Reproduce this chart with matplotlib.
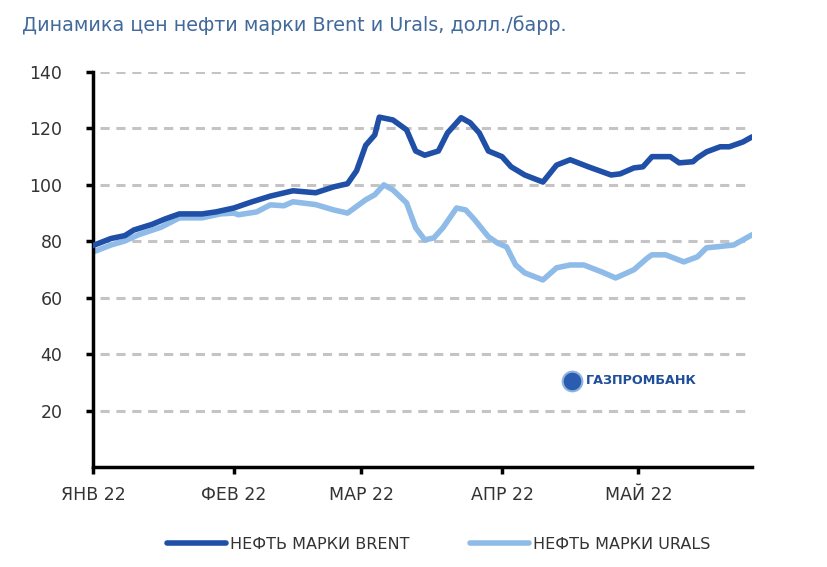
import matplotlib
matplotlib.use("Agg")
import matplotlib.pyplot as plt
import pandas as pd

# Brent, долл./барр.
brent_dates = ["2022-01-01", "2022-01-05", "2022-01-08", "2022-01-10", "2022-01-14", "2022-01-17",
               "2022-01-20", "2022-01-25", "2022-01-28", "2022-02-01", "2022-02-05", "2022-02-09",
               "2022-02-14", "2022-02-19", "2022-02-23", "2022-02-26", "2022-02-28", "2022-03-02",
               "2022-03-04", "2022-03-05", "2022-03-08", "2022-03-11", "2022-03-13", "2022-03-15",
               "2022-03-18", "2022-03-20", "2022-03-23", "2022-03-25", "2022-03-27", "2022-03-29",
               "2022-04-01", "2022-04-03", "2022-04-06", "2022-04-10", "2022-04-13", "2022-04-16",
               "2022-04-20", "2022-04-25", "2022-04-27", "2022-04-30", "2022-05-02", "2022-05-04",
               "2022-05-08", "2022-05-10", "2022-05-13", "2022-05-14", "2022-05-16", "2022-05-19",
               "2022-05-21", "2022-05-24", "2022-05-26"]
brent_values = [78.5, 81, 82, 84, 86, 88,
                89.7, 89.7, 90.4, 91.8, 94, 96,
                97.9, 97.2, 99.3, 100.4, 105, 114,
                117.7, 124, 123, 119.5, 112, 110.5,
                112, 118.4, 123.8, 122, 118.4, 112,
                110, 106.4, 103.5, 101, 107, 108.9,
                106.4, 103.5, 103.9, 106, 106.4, 110,
                110, 107.8, 108.2, 109.6, 111.7, 113.5,
                113.5, 115.2, 117]

# Urals, долл./барр.
urals_dates = ["2022-01-01", "2022-01-05", "2022-01-08", "2022-01-11", "2022-01-16", "2022-01-20",
               "2022-01-25", "2022-01-29", "2022-02-01", "2022-02-02", "2022-02-06", "2022-02-09",
               "2022-02-12", "2022-02-14", "2022-02-19", "2022-02-23", "2022-02-26", "2022-03-02",
               "2022-03-04", "2022-03-06", "2022-03-08", "2022-03-11", "2022-03-13", "2022-03-15",
               "2022-03-17", "2022-03-19", "2022-03-22", "2022-03-24", "2022-03-26", "2022-03-29",
               "2022-03-31", "2022-04-02", "2022-04-04", "2022-04-06", "2022-04-10", "2022-04-13",
               "2022-04-16", "2022-04-19", "2022-04-23", "2022-04-26", "2022-04-30", "2022-05-03",
               "2022-05-04", "2022-05-07", "2022-05-11", "2022-05-14", "2022-05-16", "2022-05-18",
               "2022-05-22", "2022-05-24", "2022-05-26"]
urals_values = [76.2, 78.7, 80.1, 82.3, 85, 88.3,
                88.3, 89.7, 90, 89.4, 90.4, 92.9,
                92.6, 94, 93, 91.1, 90, 94.7,
                96.5, 100, 98.2, 93.6, 84.8, 80.5,
                81.2, 84.8, 91.8, 91.1, 87.6, 81.6,
                79.4, 78, 71.6, 68.8, 66.3, 70.6,
                71.6, 71.6, 69.1, 67, 69.9, 74.1,
                75.2, 75.2, 72.7, 74.5, 77.7, 78,
                78.7, 80.5, 82.3]

month_ticks = ["2022-01-01", "2022-02-01", "2022-03-01", "2022-04-01", "2022-05-01"]
month_labels = ["ЯНВ 22", "ФЕВ 22", "МАР 22", "АПР 22", "МАЙ 22"]
y_ticks = [20, 40, 60, 80, 100, 120, 140]

BRENT = "#1f4fa6"
URALS = "#8fbbe8"

fig = plt.figure(figsize=(8.28, 5.67), dpi=100)
ax = fig.add_axes([0.1123, 0.1764, 0.7959, 0.6966])

ax.plot(pd.to_datetime(brent_dates), brent_values, color=BRENT, lw=4.0,
        solid_joinstyle="round", solid_capstyle="round", label="НЕФТЬ МАРКИ BRENT", zorder=3)
ax.plot(pd.to_datetime(urals_dates), urals_values, color=URALS, lw=4.0,
        solid_joinstyle="round", solid_capstyle="round", label="НЕФТЬ МАРКИ URALS", zorder=2)

ax.set_ylim(0, 140)
ax.set_xlim(pd.Timestamp("2022-01-01"), pd.Timestamp("2022-05-26"))
ax.set_yticks(y_ticks)
ax.set_xticks(pd.to_datetime(month_ticks))
ax.set_xticklabels(month_labels)

# пунктирная сетка
for v in y_ticks:
    ax.axhline(v, xmin=0.01, xmax=1.0, color="#c4c4c4", lw=2.2, dashes=(3, 2.2), zorder=1)

for s in ["top", "right"]:
    ax.spines[s].set_visible(False)
ax.spines["left"].set_linewidth(2.5)
ax.spines["bottom"].set_linewidth(2.5)
ax.tick_params(axis="both", width=2.5, length=5, color="black")
ax.tick_params(axis="x", pad=9)
ax.tick_params(axis="y", pad=17)
for lab in ax.get_xticklabels() + ax.get_yticklabels():
    lab.set_fontsize(12.5)
    lab.set_color("#333333")

fig.text(0.027, 0.955, "Динамика цен нефти марки Brent и Urals, долл./барр.",
         fontsize=13.8, color="#41699c", va="center", ha="left")

# логотип
ax.scatter([pd.Timestamp("2022-04-16 12:00")], [30.5], s=200, color="#2a5db0",
           edgecolor="#8fb3e0", linewidth=1.5, zorder=4)
ax.text(pd.Timestamp("2022-04-19 12:00"), 30.5, "ГАЗПРОМБАНК", fontsize=9.2, fontweight="bold",
        color="#1f4f9a", va="center", ha="left", zorder=4)

leg = fig.legend(loc="center", bbox_to_anchor=(0.53, 0.04), ncol=2, frameon=False,
                 handlelength=3.7, handletextpad=0.25, columnspacing=3.8,
                 prop={"size": 11.5})
for t in leg.get_texts():
    t.set_color("#333333")

fig.savefig("out.png", dpi=100)
